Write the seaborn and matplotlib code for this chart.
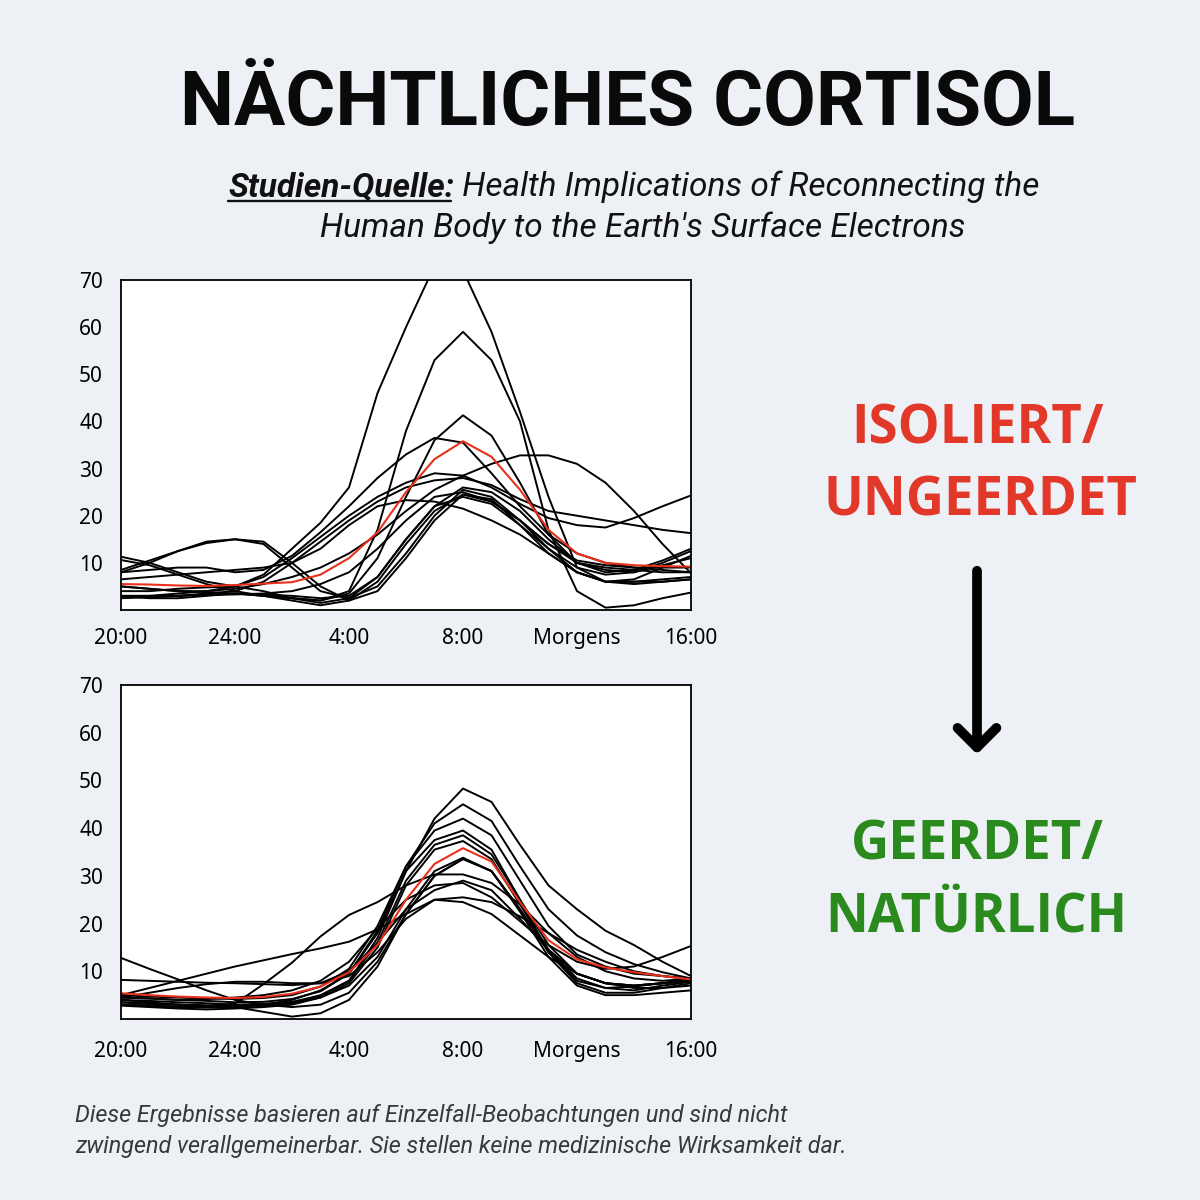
"""Nächtliches Cortisol: isoliert vs. geerdet, two panels of individual curves."""

import matplotlib

matplotlib.use("Agg")

import matplotlib.pyplot as plt
import pandas as pd
import seaborn as sns
from matplotlib.lines import Line2D
from matplotlib.patches import FancyArrowPatch

# x grid in tick units (0 = 20:00 ... 5 = 16:00), quarter steps
U = [0, 0.25, 0.5, 0.75, 1, 1.25, 1.5, 1.75, 2, 2.25, 2.5, 2.75, 3,
     3.25, 3.5, 3.75, 4, 4.25, 4.5, 4.75, 5]
TICK_POS = [0, 1, 2, 3, 4, 5]
TICK_LABELS = ["20:00", "24:00", "4:00", "8:00", "Morgens", "16:00"]
Y_TICKS = [10, 20, 30, 40, 50, 60, 70]

# --- isoliert / ungeerdet (top panel) ---
T01 = [3, 3, 3.5, 4, 5, 7.5, 13, 18.5, 26, 46, 60, 73, 72, 59, 42, 24, 9, 6, 6, 6.5, 7]
T02 = [3, 2.5, 2.5, 3, 3.5, 3, 2.5, 2, 4, 17, 38, 53, 59, 53, 40, 17, 4, 0.5, 1, 2.5, 3.7]
T03 = [5, 4.5, 4, 3.8, 3.5, 3, 2.5, 2, 3.5, 11, 24, 36, 41.3, 37, 27, 16, 10, 8.5, 8, 10, 12.5]
T04 = [8, 8.5, 9, 9, 8, 8.5, 11.5, 16.5, 22, 28, 33, 36.5, 35.5, 29, 22, 16, 12, 10, 9, 8.5, 8]
T05 = [5, 4.5, 4, 4, 4.5, 5.5, 7, 9, 12, 16, 21, 25.5, 28.5, 31, 32.8, 32.8, 31, 27, 21, 14, 7.8]
T06 = [4, 4, 4.5, 4.8, 5, 7, 11, 15.5, 20, 24, 27, 29, 28.5, 26, 22.5, 19.5, 18, 17.5, 19.5, 22, 24.3]
T07 = [3, 3, 3, 3.5, 4, 6, 10, 14.5, 19, 23, 26, 27.5, 28, 26.5, 23.5, 21, 20, 19, 18, 17, 16.3]
T08 = [6.5, 7, 7.5, 8, 8.5, 9, 10, 13, 18, 22, 23.3, 23, 21.5, 19, 16, 12, 8, 6, 5.5, 6, 6.5]
T09 = [8.5, 10.5, 12.5, 14.2, 15, 14, 9, 4, 2.5, 5, 12, 20, 25.5, 24, 19, 14, 10.5, 9.5, 9, 9, 9]
T10 = [8, 10, 12.5, 14.5, 15, 14.5, 10, 5, 2, 4, 11, 19, 24.5, 23.5, 18, 12, 8, 6, 6, 6, 6.5]
T11 = [11.3, 10, 8, 6, 5, 4, 2.5, 1.5, 2.5, 7, 15, 22, 26, 25, 21, 15, 10, 8, 8.5, 10.5, 13]
T12 = [10.6, 9.5, 7.5, 5.5, 4, 3, 2, 1, 2, 6, 14, 21, 24.5, 23, 19, 13, 8, 6, 6.5, 9, 11.5]
T13 = [2.8, 2.9, 3, 3.2, 3.3, 3.5, 4, 5.5, 8, 13, 19, 24, 25, 23, 19, 14, 10, 9, 8.5, 8, 8]
T14 = [2.5, 2.7, 3, 3.3, 3.5, 3.3, 3, 2.5, 3, 7, 15, 22, 24, 22.5, 18, 13, 9, 7.5, 8, 9.5, 11]
T_MEAN = [5.5, 5.4, 5.2, 5.1, 5.3, 5.6, 5.9, 7.5, 11, 16.5, 25, 32, 35.8, 32.5, 25.5, 17, 12, 10, 9.5, 9.3, 9.2]

# --- geerdet / natürlich (bottom panel) ---
B01 = [4, 3.8, 3.5, 3.3, 3, 3.2, 3.6, 4.8, 8, 17, 31, 42, 48.3, 45.5, 36.5, 28, 23, 18.5, 15.5, 12, 9]
B02 = [4.5, 4.3, 4, 3.8, 3.5, 3.6, 4.2, 5.8, 9.5, 18.5, 32, 41, 45, 41.5, 32, 23, 17.5, 14, 11.5, 9.8, 8.5]
B03 = [5, 4.7, 4.5, 4.3, 4.2, 4.4, 5, 6.8, 10.5, 19.5, 32, 39.5, 42, 38.5, 29, 19.5, 13.5, 11, 9.5, 9, 8.3]
B04 = [3, 2.8, 2.5, 2.4, 2.5, 3, 4, 6, 9.5, 18, 31, 37.5, 39.5, 35.5, 25, 14, 7.5, 5.5, 5.5, 6.5, 7.5]
B05 = [3.5, 3.2, 3, 2.8, 2.7, 2.8, 3.5, 5, 8, 16, 29, 36.5, 38.5, 34.5, 25, 15.5, 9.5, 7.5, 7, 7.5, 8]
B06 = [2.8, 2.5, 2.2, 2, 2.2, 2.5, 3, 4.5, 7.5, 15, 28, 35.5, 37.3, 33.5, 24, 14.5, 8.5, 6.5, 6, 7, 7.8]
B07 = [3, 2.8, 2.6, 2.5, 2.5, 2.8, 3.3, 4.5, 7, 13, 23, 31, 33.8, 31, 23, 14, 8, 6.5, 6.8, 7.5, 8.5]
B08 = [4, 3.5, 3, 2.8, 2.5, 1.5, 0.5, 1.2, 4, 11, 22, 30, 33.6, 31, 22.5, 13, 7, 5, 5, 5.5, 6]
B09 = [3.5, 3.2, 3, 2.8, 3.2, 7.3, 11.8, 17.3, 21.8, 24.5, 28, 30.3, 30.3, 28.5, 24, 18, 13, 10, 8.5, 8, 8.5]
B10 = [12.8, 10.5, 8.3, 6, 4, 3, 2.5, 3, 5.5, 12, 22, 30, 33.5, 31, 23, 14.5, 9.5, 7.5, 7, 7.5, 8]
B11 = [5, 6.5, 8, 9.5, 11, 12.3, 13.6, 14.8, 16.2, 18.8, 22, 25, 25.5, 24.5, 21.5, 18, 14.5, 12, 10, 9, 8.5]
B12 = [4.5, 4.3, 4, 4.2, 4.5, 5, 6, 8, 12, 19, 25, 28, 28.5, 25.5, 20.5, 15.5, 12, 10.5, 11, 13, 15.3]
B13 = [8.2, 8, 7.8, 7.6, 7.5, 7.3, 7.1, 7.5, 10, 16, 23, 27, 29, 27, 21, 14.5, 9.5, 7.5, 7, 7.5, 8]
B14 = [4.5, 5.5, 6.5, 7.3, 7.8, 7.8, 7.5, 7.5, 9, 14, 21, 25, 24.5, 22, 17.5, 13, 9.5, 7.5, 6.5, 6.5, 7]
B_MEAN = [5.4, 5, 4.7, 4.5, 4.4, 4.6, 5.3, 6.8, 9.8, 15.5, 25, 32.5, 35.8, 33, 24.5, 16.5, 12.5, 10.8, 9.8, 9, 8.3]

ISO_CURVES = [T01, T02, T03, T04, T05, T06, T07, T08, T09, T10, T11, T12, T13, T14]
GND_CURVES = [B01, B02, B03, B04, B05, B06, B07, B08, B09, B10, B11, B12, B13, B14]

BG = "#edf1f6"
RED = "#e2382a"
LINE_RED = "#e8301c"
GREEN = "#2b8a1e"


def to_long(curves):
    rows = []
    for i, c in enumerate(curves):
        for u, v in zip(U, c):
            rows.append({"subject": i, "u": u, "value": v})
    return pd.DataFrame(rows)


def draw_panel(ax, curves, mean, xpad):
    df = to_long(curves)
    sns.lineplot(data=df, x="u", y="value", units="subject", estimator=None,
                 color="black", lw=1.4, ax=ax, legend=False)
    sns.lineplot(x=U, y=mean, color=LINE_RED, lw=1.5, ax=ax)
    for ln in ax.get_lines():
        ln.set_solid_joinstyle("round")
    ax.set_xlim(0, 5)
    ax.set_ylim(0, 70)
    ax.set_xticks(TICK_POS)
    ax.set_xticklabels(TICK_LABELS)
    ax.set_yticks(Y_TICKS)
    ax.set_xlabel("")
    ax.set_ylabel("")
    ax.set_facecolor("white")
    for s in ax.spines.values():
        s.set_color("black")
        s.set_linewidth(1.3)
    ax.tick_params(axis="x", direction="out", length=7, width=1.3, pad=xpad,
                   labelsize=15, colors="black")
    ax.tick_params(axis="y", direction="out", length=5, width=1.3, pad=8,
                   labelsize=15, colors="black")


sns.set_theme(style="white")
plt.rcParams["font.family"] = ["Noto Sans", "DejaVu Sans"]

fig = plt.figure(figsize=(12, 12), dpi=100, facecolor=BG)

ax_top = fig.add_axes([121 / 1200, 1 - 610 / 1200, 570 / 1200, 330 / 1200])
ax_bot = fig.add_axes([121 / 1200, 1 - 1019 / 1200, 570 / 1200, 334 / 1200])
draw_panel(ax_top, ISO_CURVES, T_MEAN, 6)
draw_panel(ax_bot, GND_CURVES, B_MEAN, 9)


def fy(py):
    return 1 - py / 1200


# title
fig.text(628 / 1200, fy(125), "NÄCHTLICHES CORTISOL", ha="center", va="baseline",
         fontsize=55, fontweight="bold", family=["Roboto", "DejaVu Sans"], color="#0a0a0a")

# subtitle with bold underlined source label
renderer = fig.canvas.get_renderer()
sub_font = dict(fontsize=24, style="italic", family=["Roboto", "DejaVu Sans"], color="#111111")
lab = fig.text(0, fy(196), "Studien-Quelle:", va="baseline", fontweight="bold", **sub_font)
rest = fig.text(0, fy(196), " Health Implications of Reconnecting the", va="baseline", **sub_font)
w_lab = lab.get_window_extent(renderer).width
w_rest = rest.get_window_extent(renderer).width
x0 = 634 - (w_lab + w_rest) / 2
lab.set_x(x0 / 1200)
rest.set_x((x0 + w_lab) / 1200)
fig.add_artist(Line2D([x0 / 1200, (x0 + w_lab - 3) / 1200], [fy(201), fy(201)],
                      color="#111111", lw=1.7, transform=fig.transFigure))
fig.text(643 / 1200, fy(237), "Human Body to the Earth's Surface Electrons",
         ha="center", va="baseline", **sub_font)

# right labels
lab_font = dict(fontsize=38, fontweight="bold", family=["Open Sans", "DejaVu Sans"],
                ha="center", va="baseline")
fig.text(977 / 1200, fy(444), "ISOLIERT/", color=RED, **lab_font)
fig.text(980 / 1200, fy(515), "UNGEERDET", color=RED, **lab_font)
fig.text(977 / 1200, fy(860), "GEERDET/", color=GREEN, **lab_font)
fig.text(976 / 1200, fy(931), "NATÜRLICH", color=GREEN, **lab_font)

arrow = FancyArrowPatch((977 / 1200, fy(568)), (977 / 1200, fy(757)),
                        transform=fig.transFigure,
                        arrowstyle="->,head_length=14,head_width=14",
                        lw=7, color="black", capstyle="round", joinstyle="round",
                        mutation_scale=1)
fig.add_artist(arrow)

# footnote
foot_font = dict(fontsize=16.8, style="italic", family=["Roboto", "DejaVu Sans"],
                 color="#383838", ha="left", va="baseline")
fig.text(75 / 1200, fy(1122), "Diese Ergebnisse basieren auf Einzelfall-Beobachtungen und sind nicht",
         **foot_font)
fig.text(75 / 1200, fy(1153), "zwingend verallgemeinerbar. Sie stellen keine medizinische Wirksamkeit dar.",
         **foot_font)

fig.savefig("out.png", dpi=100, facecolor=BG)
